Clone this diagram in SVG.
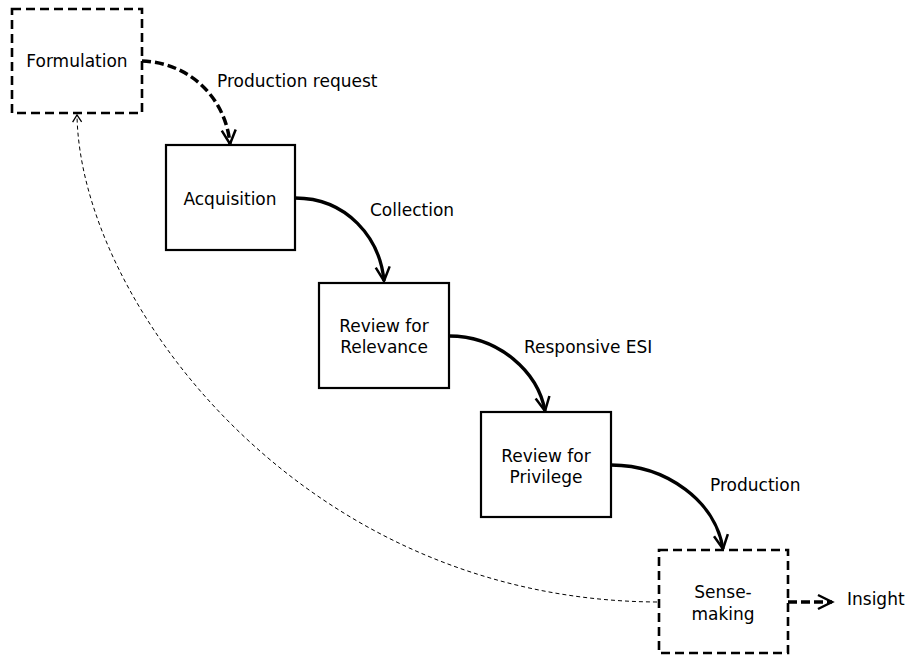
<svg xmlns="http://www.w3.org/2000/svg" width="909" height="655" viewBox="0 0 909 655">
<defs>
<style>
text{font-family:"DejaVu Sans","Liberation Sans",sans-serif;font-size:17px;fill:#000}
.c{text-anchor:middle}
.solid{fill:#fff;stroke:#000;stroke-width:2.2}
.dbox{fill:#fff;stroke:#000;stroke-width:2.6;stroke-dasharray:9 5}
.flow{fill:none;stroke:#000;stroke-width:3.3}
.dflow{fill:none;stroke:#000;stroke-width:3.5;stroke-dasharray:9 4}
.back{fill:none;stroke:#000;stroke-width:1;stroke-dasharray:4 3}
</style>
<marker id="ah" markerUnits="userSpaceOnUse" markerWidth="20" markerHeight="20" viewBox="-16 -10 20 20" refX="0" refY="0" orient="auto">
<path d="M-14,-7 L0,0 L-14,7" fill="none" stroke="#000" stroke-width="2.5"/>
</marker>
<marker id="ahs" markerUnits="userSpaceOnUse" markerWidth="12" markerHeight="12" viewBox="-10 -6 12 12" refX="0" refY="0" orient="auto">
<path d="M-7,-4.5 L0,0 L-7,4.5" fill="none" stroke="#000" stroke-width="1.3"/>
</marker>
</defs>
<g id="connectors">
<path class="dflow" d="M142,61 C192,63 226,100 230,144" marker-end="url(#ah)"/>
<path class="flow" d="M295,198 C347,198 380,238 384,281" marker-end="url(#ah)"/>
<path class="flow" d="M449,336 C499,336 538,372 545,411" marker-end="url(#ah)"/>
<path class="flow" d="M611,465 C667,465 716,502 723,549" marker-end="url(#ah)"/>
<path class="dflow" d="M788,602 L832,602" marker-end="url(#ah)"/>
<path class="back" d="M657,602 C300,600 80,300 77,115" marker-end="url(#ahs)"/>
</g>
<g id="formulation">
<rect class="dbox" x="12" y="9" width="130" height="104"/>
<text class="c" x="77" y="67">Formulation</text>
</g>
<g id="acquisition">
<rect class="solid" x="166" y="145" width="129" height="105"/>
<text class="c" x="230" y="205">Acquisition</text>
</g>
<g id="relevance">
<rect class="solid" x="319" y="283" width="130" height="105"/>
<text class="c" x="384" y="332">Review for</text>
<text class="c" x="384" y="353">Relevance</text>
</g>
<g id="privilege">
<rect class="solid" x="481" y="412" width="130" height="105"/>
<text class="c" x="546" y="462">Review for</text>
<text class="c" x="546" y="483">Privilege</text>
</g>
<g id="sensemaking">
<rect class="dbox" x="659" y="550" width="129" height="103"/>
<text class="c" x="723" y="598">Sense-</text>
<text class="c" x="723" y="620">making</text>
</g>
<g id="labels">
<text x="217" y="87">Production request</text>
<text x="370" y="216">Collection</text>
<text x="524" y="353">Responsive ESI</text>
<text x="710" y="491">Production</text>
<text x="847" y="605">Insight</text>
</g>
</svg>
